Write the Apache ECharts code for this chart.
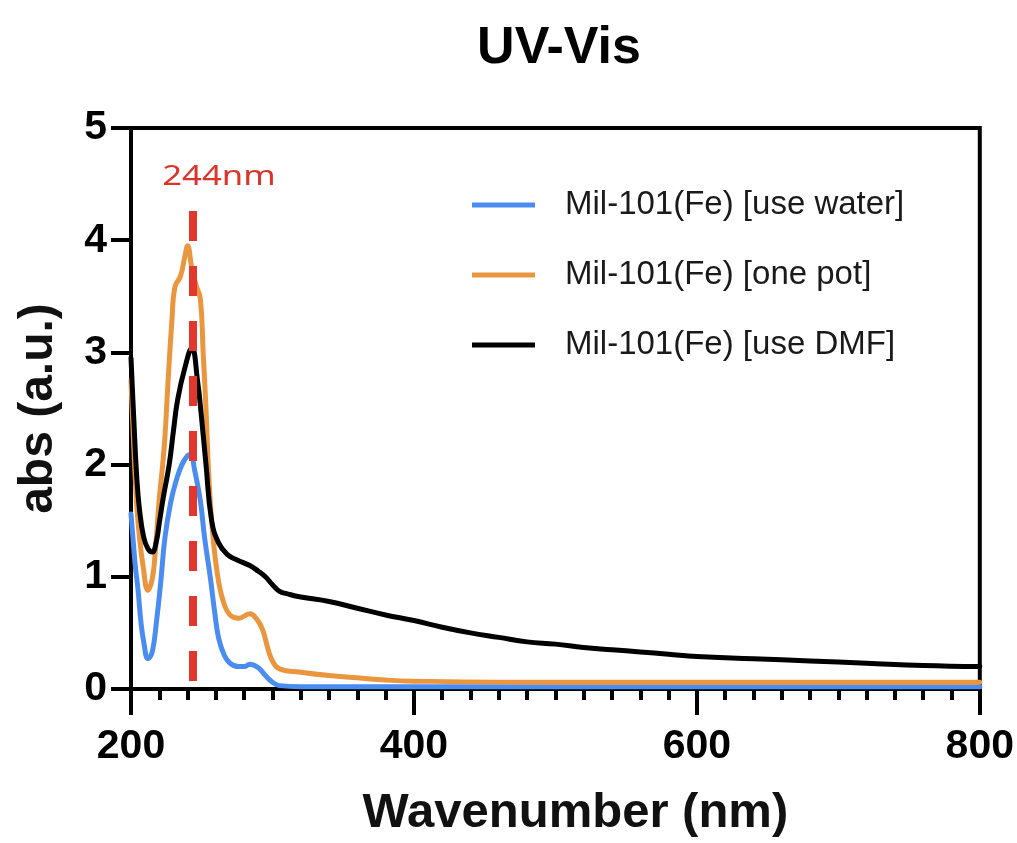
<!DOCTYPE html>
<html>
<head>
<meta charset="utf-8">
<script src="https://cdn.jsdelivr.net/npm/echarts@6/dist/echarts.min.js"></script>
<style>
  html, body { margin: 0; padding: 0; background: #ffffff; }
  #chart { width: 1017px; height: 843px; }
</style>
</head>
<body>
<div id="chart"></div>
<script>
// UV-Vis absorbance spectra of three MIL-101(Fe) samples
const waterNm  = [200, 202, 203, 205, 207, 209, 212, 215, 218, 221, 224, 228, 232, 236, 240, 242, 245, 249, 252, 256, 259, 262, 266, 270, 276, 280, 284, 290, 295, 300, 305, 320, 360, 400, 500, 600, 700, 800];
const waterAbs = [1.56, 1.25, 1.1, 0.88, 0.6, 0.42, 0.27, 0.33, 0.6, 0.95, 1.35, 1.66, 1.86, 2.0, 2.08, 2.09, 1.95, 1.68, 1.35, 1.0, 0.7, 0.45, 0.3, 0.23, 0.2, 0.2, 0.22, 0.19, 0.12, 0.06, 0.03, 0.02, 0.02, 0.02, 0.02, 0.02, 0.02, 0.02];

const onePotNm  = [200, 202, 204, 206, 208.5, 212, 215, 217, 220, 222, 224, 226, 229, 231, 235, 238, 240, 243, 246, 249, 251, 253, 255, 258, 262, 266, 270, 276, 284, 289, 293, 297, 300, 305, 320, 340, 360, 380, 400, 500, 600, 700, 800];
const onePotAbs = [2.75, 2.15, 1.65, 1.35, 1.1, 0.88, 0.98, 1.2, 1.7, 1.95, 2.25, 2.7, 3.3, 3.58, 3.68, 3.85, 3.95, 3.75, 3.6, 3.48, 3.0, 2.5, 1.9, 1.35, 0.95, 0.75, 0.66, 0.63, 0.67, 0.62, 0.53, 0.35, 0.25, 0.18, 0.15, 0.12, 0.1, 0.08, 0.07, 0.06, 0.06, 0.06, 0.06];

const dmfNm  = [200, 202, 204, 206, 209, 212, 215, 218, 220, 223, 227, 230, 233, 238, 243, 247, 250, 253, 257, 262, 268, 275, 284, 290, 295, 300, 305, 310, 320, 340, 360, 380, 400, 420, 440, 460, 480, 500, 520, 540, 560, 580, 600, 640, 680, 720, 760, 800];
const dmfAbs = [2.95, 2.4, 1.9, 1.6, 1.35, 1.25, 1.22, 1.32, 1.48, 1.72, 2.0, 2.3, 2.58, 2.86, 3.04, 2.75, 2.4, 2.0, 1.5, 1.3, 1.2, 1.15, 1.1, 1.05, 1.0, 0.93, 0.87, 0.85, 0.82, 0.78, 0.72, 0.66, 0.61, 0.55, 0.5, 0.46, 0.42, 0.4, 0.37, 0.35, 0.33, 0.31, 0.29, 0.27, 0.25, 0.23, 0.21, 0.2];

const seriesNames = ['Mil-101(Fe) [use water]', 'Mil-101(Fe) [one pot]', 'Mil-101(Fe) [use DMF]'];
const seriesColors = ['#4a8cf0', '#ea963f', '#000000'];

// peak marker
const peakNm = 244;
const peakLabel = '244nm';
const peakTop = 4.26;

const xTicks = { min: 200, max: 800, interval: 200 };
const yTicks = { min: 0, max: 5, interval: 1 };

const FONT = '"Liberation Sans", Arial, Helvetica, sans-serif';

function pairs(xs, ys) { return xs.map((x, i) => [x, ys[i]]); }

const chart = echarts.init(document.getElementById('chart'), null, { renderer: 'canvas' });

const lineSeries = [pairs(waterNm, waterAbs), pairs(onePotNm, onePotAbs), pairs(dmfNm, dmfAbs)].map((d, i) => ({
  name: seriesNames[i],
  type: 'line',
  data: d,
  showSymbol: false,
  smooth: 0.45,
  lineStyle: { color: seriesColors[i], width: 5, cap: 'round', join: 'round' },
  itemStyle: { color: seriesColors[i] },
  z: 2 + i
}));

lineSeries[2].markLine = {
  silent: true,
  symbol: ['none', 'none'],
  label: { show: false },
  lineStyle: { color: '#e2372c', width: 8, type: [30, 25], opacity: 1 },
  data: [[{ coord: [peakNm, peakTop] }, { coord: [peakNm, 0] }]],
  z: 10
};

const axisBlack = { color: '#000', width: 4 };

chart.setOption({
  animation: false,
  backgroundColor: '#ffffff',
  title: {
    text: 'UV-Vis',
    left: 554,
    top: 18,
    textAlign: 'center',
    textStyle: { fontFamily: FONT, fontSize: 52, fontWeight: 'bold', color: '#000' }
  },
  legend: {
    orient: 'vertical',
    left: 467,
    top: 180,
    icon: 'rect',
    itemWidth: 63,
    itemHeight: 5,
    itemGap: 30,
    data: seriesNames,
    textStyle: { fontFamily: FONT, fontSize: 33, color: '#1a1a1a', lineHeight: 40, padding: [0, 0, 0, 25] }
  },
  grid: {
    left: 131, right: 37, top: 128, bottom: 150,
    show: true, borderColor: '#000', borderWidth: 4, backgroundColor: 'transparent'
  },
  xAxis: {
    type: 'value',
    min: xTicks.min, max: xTicks.max, interval: xTicks.interval,
    axisLine: { show: true, lineStyle: axisBlack },
    axisTick: { show: true, inside: false, length: 26, lineStyle: axisBlack },
    minorTick: { show: true, splitNumber: 10, length: 11, lineStyle: axisBlack },
    splitLine: { show: false },
    minorSplitLine: { show: false },
    axisLabel: { fontFamily: FONT, fontSize: 41, fontWeight: 'bold', color: '#000', margin: 37 },
    name: 'Wavenumber (nm)',
    nameLocation: 'middle',
    nameGap: 100,
    nameTextStyle: { fontFamily: FONT, fontSize: 49, fontWeight: 'bold', color: '#111', padding: [0, 0, 0, 40] }
  },
  yAxis: {
    type: 'value',
    min: yTicks.min, max: yTicks.max, interval: yTicks.interval,
    axisLine: { show: true, lineStyle: axisBlack },
    axisTick: { show: true, inside: false, length: 20, lineStyle: axisBlack },
    splitLine: { show: false },
    axisLabel: { fontFamily: FONT, fontSize: 41, fontWeight: 'bold', color: '#000', margin: 24 },
    name: 'abs (a.u.)',
    nameLocation: 'middle',
    nameGap: 68,
    nameTextStyle: { fontFamily: FONT, fontSize: 48, fontWeight: 'bold', color: '#111' }
  },
  series: lineSeries
});

// peak annotation text, placed next to the top of the marker line
const topPx = chart.convertToPixel({ gridIndex: 0 }, [peakNm, peakTop]);
chart.setOption({
  graphic: [{
    type: 'text',
    x: topPx[0] - 31,
    y: topPx[1] - 34,
    scaleX: 1.24,
    z: 20,
    style: {
      text: peakLabel,
      fontFamily: '"Noto Sans", "Open Sans", sans-serif',
      fontSize: 28,
      fill: '#d9352b',
      textVerticalAlign: 'middle'
    }
  }]
});
</script>
</body>
</html>
